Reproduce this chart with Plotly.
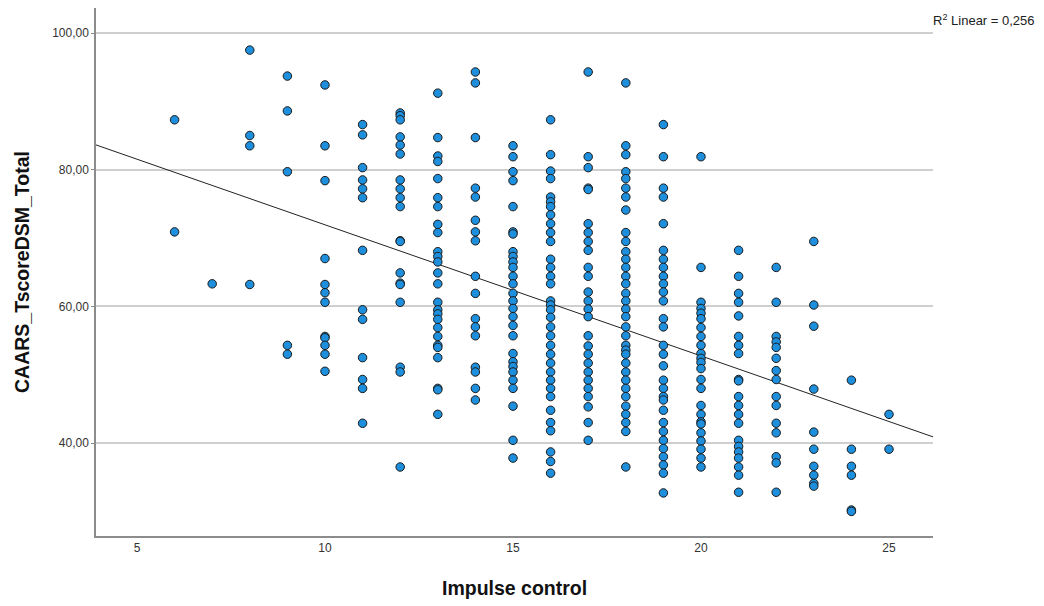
import numpy as np
import plotly.graph_objects as go

# Impulse control score -> CAARS_TscoreDSM_Total values
col_values = {
    6: [87.3, 70.9],
    7: [63.3],
    8: [97.5, 85.0, 83.5, 63.2],
    9: [93.7, 88.6, 79.7, 54.3, 53.0],
    10: [92.4, 83.5, 78.4, 67.0, 63.2, 62.0, 60.6, 55.6, 55.4, 54.3, 53.0, 50.5],
    11: [86.6, 85.1, 80.3, 78.5, 77.2, 75.9, 68.2, 59.5, 58.1, 52.5, 49.3, 48.0, 42.9],
    12: [88.3, 87.9, 87.3, 84.8, 83.6, 82.3, 78.5, 77.2, 75.9, 74.6, 69.6, 69.5,
         64.9, 63.4, 63.2, 60.6, 51.1, 50.4, 36.5],
    13: [91.2, 84.7, 82.0, 81.2, 78.7, 75.9, 74.6, 72.0, 70.8, 68.0, 67.3, 66.5,
         64.9, 63.3, 60.6, 59.5, 58.9, 58.1, 56.9, 55.6, 54.3, 54.0, 52.5, 48.0,
         47.8, 44.2],
    14: [94.3, 92.7, 84.7, 77.3, 76.0, 72.6, 70.9, 69.6, 64.4, 61.9, 58.2, 57.0,
         55.7, 51.1, 50.4, 48.0, 46.3],
    15: [83.5, 81.9, 79.7, 78.4, 74.6, 70.9, 70.6, 68.0, 67.3, 66.5, 65.7, 64.4,
         63.3, 61.9, 60.8, 59.7, 58.5, 57.2, 55.7, 53.1, 51.9, 51.2, 50.4, 49.2,
         48.0, 45.4, 40.4, 37.8],
    16: [87.3, 82.2, 79.8, 78.7, 76.0, 75.3, 74.6, 73.4, 72.1, 70.8, 69.5, 66.9,
         65.7, 64.4, 63.3, 60.8, 60.2, 59.5, 58.4, 57.0, 55.7, 54.3, 53.0, 51.7,
         50.4, 49.2, 48.0, 46.8, 44.8, 43.0, 41.8, 38.7, 37.3, 35.6],
    17: [94.3, 81.9, 80.3, 77.3, 77.1, 72.1, 70.8, 69.5, 68.2, 65.7, 64.4, 62.1,
         60.8, 59.6, 58.5, 55.7, 54.2, 53.0, 51.7, 50.4, 49.2, 48.0, 46.8, 45.3,
         43.0, 40.4],
    18: [92.7, 83.5, 82.2, 79.7, 78.7, 77.3, 76.0, 74.1, 70.8, 69.5, 68.0, 66.9,
         65.7, 64.4, 63.3, 61.9, 60.8, 59.6, 58.5, 57.0, 55.7, 54.3, 53.6, 53.0,
         51.7, 50.4, 49.2, 48.0, 46.8, 45.4, 44.2, 43.0, 41.7, 36.5],
    19: [86.6, 81.9, 77.3, 76.0, 72.1, 68.2, 66.9, 65.7, 64.4, 63.3, 62.1, 60.8,
         58.2, 57.0, 54.3, 53.0, 51.3, 49.2, 48.0, 46.8, 46.3, 44.8, 43.0, 41.7,
         40.4, 39.2, 38.0, 36.8, 35.6, 32.7],
    20: [81.9, 65.7, 60.6, 59.7, 59.0, 58.2, 56.9, 55.6, 54.3, 53.1, 52.4, 51.8,
         50.9, 49.3, 48.0, 45.5, 44.2, 43.1, 42.8, 41.5, 40.3, 39.1, 37.8, 36.5],
    21: [68.2, 64.4, 61.9, 60.6, 58.6, 55.6, 54.3, 53.1, 49.3, 49.1, 46.8, 45.5,
         44.2, 42.9, 40.4, 39.5, 38.7, 37.8, 36.5, 35.3, 32.8],
    22: [65.7, 60.6, 55.6, 54.8, 54.0, 52.4, 50.6, 49.3, 46.8, 45.5, 42.9, 41.5,
         38.0, 37.1, 32.8],
    23: [69.5, 60.2, 57.1, 47.9, 41.6, 39.1, 36.6, 35.3, 34.1, 33.7],
    24: [49.2, 39.1, 36.6, 35.3, 30.2, 30.0],
    25: [44.2, 39.1],
}

impulse_control = [k for k, vs in col_values.items() for _ in vs]
caars_total = [v for vs in col_values.values() for v in vs]

x_ticks = [5, 10, 15, 20, 25]
y_ticks = [40, 60, 80, 100]
x_range = [3.91, 26.17]
y_range = [26.4, 103.66]
x_title = "<b>Impulse control</b>"
y_title = "<b>CAARS_TscoreDSM_Total</b>"
r2_label = "R<sup>2</sup> Linear = 0,256"

slope, intercept = np.polyfit(impulse_control, caars_total, 1)
line_x = np.array(x_range)
line_y = intercept + slope * line_x

fig = go.Figure()
fig.add_trace(go.Scatter(
    x=line_x, y=line_y, mode="lines",
    line=dict(color="#222222", width=1), hoverinfo="skip", showlegend=False,
))
fig.add_trace(go.Scatter(
    x=impulse_control, y=caars_total, mode="markers",
    marker=dict(size=8.5, color="#1e8fdc", line=dict(color="#1a1a1a", width=1)),
    showlegend=False,
))

title_font = dict(family="Liberation Sans, Arial, sans-serif", size=19.5, color="#111111")

fig.update_layout(
    width=1044, height=606,
    margin=dict(l=88, r=119, t=0, b=78, autoexpand=False),
    paper_bgcolor="white", plot_bgcolor="white",
    separators=",.",
    font=dict(family="Liberation Sans, Arial, sans-serif", color="#222222"),
    xaxis=dict(
        range=x_range, tickvals=x_ticks, showgrid=False, zeroline=False,
        showline=True, linecolor="#8c8c8c", linewidth=1.5,
        ticks="", tickfont=dict(size=12, color="#333333"), automargin=False,
    ),
    yaxis=dict(
        range=y_range, tickvals=y_ticks, tickformat=".2f",
        showgrid=True, gridcolor="#cfcfcf", gridwidth=1.5, zeroline=False,
        showline=True, linecolor="#8c8c8c", linewidth=1.5,
        ticks="outside", ticklen=3, tickcolor="#8c8c8c",
        tickfont=dict(size=12, color="#333333"), automargin=False,
    ),
    annotations=[
        dict(text=r2_label, xref="paper", yref="paper", x=1.0, y=1.0,
             xanchor="left", yanchor="middle", xshift=-2, yshift=-12,
             showarrow=False, font=dict(size=13, color="#222222")),
        dict(text=x_title, xref="paper", yref="paper", x=0.5, y=0,
             xanchor="center", yanchor="middle", yshift=-52,
             showarrow=False, font=title_font),
        dict(text=y_title, xref="paper", yref="paper", x=0, y=0.5,
             xanchor="center", yanchor="middle", xshift=-74, textangle=-90,
             showarrow=False, font=title_font),
    ],
)

fig.write_html("out.html")
